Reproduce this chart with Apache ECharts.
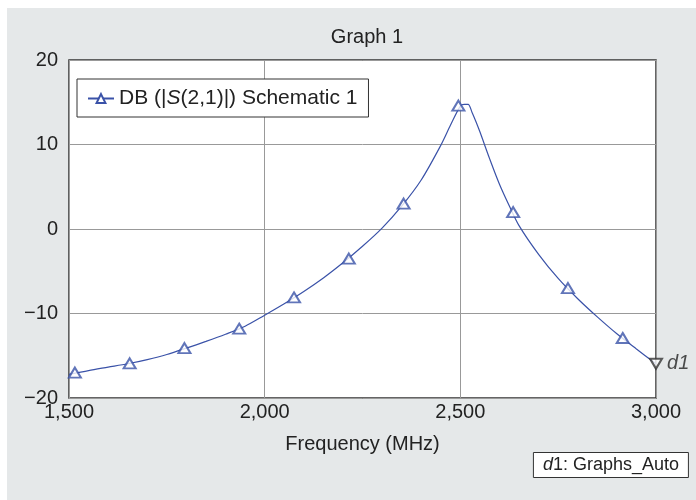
<!DOCTYPE html>
<html>
<head>
<meta charset="utf-8">
<script src="https://cdn.jsdelivr.net/npm/echarts@6/dist/echarts.min.js"></script>
<style>
  html, body { margin: 0; padding: 0; background: #fff; }
  #chart { width: 696px; height: 500px; }
</style>
</head>
<body>
<div id="chart"></div>
<script>
// curve (MHz, dB)
const freq = [1500, 1550, 1600, 1650, 1700, 1750, 1800, 1850, 1900, 1950, 2000, 2050, 2100, 2150, 2200, 2250, 2300, 2350, 2400, 2450, 2475, 2500, 2510, 2520, 2530, 2540, 2550, 2575, 2600, 2625, 2650, 2700, 2750, 2800, 2850, 2900, 2950, 3000];
const s21 = [-17.2, -16.75, -16.35, -15.95, -15.45, -14.85, -14.1, -13.3, -12.45, -11.5, -10.2, -8.85, -7.4, -5.8, -4.0, -2.05, 0.1, 2.7, 5.8, 9.9, 12.3, 14.55, 14.75, 14.75, 13.8, 12.7, 11.5, 8.3, 5.3, 2.75, 0.4, -3.0, -5.85, -8.25, -10.4, -12.4, -14.2, -15.95];
// triangle markers
const markFreq = [1515, 1655, 1795, 1935, 2075, 2215, 2355, 2495, 2635, 2775, 2915];
const markVal = [-17.0, -15.9, -14.1, -11.8, -8.1, -3.5, 3.0, 14.6, 2.0, -7.0, -12.9];
// d1 marker
const d1 = [3000, -15.95];
const xTicks = [1500, 2000, 2500, 3000];
const yTicks = [-20, -10, 0, 10, 20];

const blue = '#3a52a8';
const font = 'Liberation Sans';

const fmtX = v => v.toLocaleString('en-US');
const fmtY = v => String(v).replace('-', '\u2212');

let myChart = echarts.init(document.getElementById('chart'));
myChart.setOption({
  backgroundColor: '#fff',
  animation: false,
  textStyle: { fontFamily: font },
  graphic: [{
    type: 'rect', z: -10,
    shape: { x: 7, y: 8, width: 689, height: 492 },
    style: { fill: '#e5e8e9' }
  }],
  title: [{
    text: 'Graph 1',
    left: 362, top: 22, textAlign: 'center',
    textStyle: { fontFamily: font, fontSize: 20, fontWeight: 'normal', color: '#222' }
  }, {
    text: '{i|d}{n|1: Graphs_Auto}',
    right: 7, top: 452,
    backgroundColor: '#fff', borderColor: '#333', borderWidth: 1,
    padding: [4, 10, 4, 10],
    textStyle: {
      rich: {
        i: { fontFamily: font, fontSize: 18, fontStyle: 'italic', fontWeight: 'normal', color: '#222' },
        n: { fontFamily: font, fontSize: 18, fontWeight: 'normal', color: '#222' }
      }
    }
  }],
  legend: {
    left: 77, top: 79,
    backgroundColor: '#fff', borderColor: '#333', borderWidth: 1,
    padding: [9, 11, 8, 10],
    itemWidth: 26, itemHeight: 11, itemGap: 6,
    data: ['DB'],
    formatter: () => '{n|DB (|}{i|S}{n|(2,1)|) Schematic 1}',
    textStyle: {
      rich: {
        i: { fontFamily: font, fontSize: 21, fontStyle: 'italic', color: '#222' },
        n: { fontFamily: font, fontSize: 21, color: '#222' }
      }
    }
  },
  grid: {
    left: 69, right: 40, top: 60, bottom: 102,
    show: true, backgroundColor: '#fff', borderColor: '#333', borderWidth: 1.5
  },
  xAxis: {
    type: 'value', min: xTicks[0], max: xTicks[xTicks.length - 1], interval: 500,
    name: 'Frequency (MHz)', nameLocation: 'middle', nameGap: 36,
    nameTextStyle: { fontFamily: font, fontSize: 20, color: '#222' },
    axisLine: { show: false },
    axisTick: { show: false },
    axisLabel: { formatter: fmtX, fontFamily: font, fontSize: 20, color: '#222', margin: 4 },
    splitLine: { lineStyle: { color: '#999', width: 1 } }
  },
  yAxis: {
    type: 'value', min: yTicks[0], max: yTicks[yTicks.length - 1], interval: 10,
    axisLine: { show: false },
    axisTick: { show: false },
    axisLabel: { formatter: fmtY, fontFamily: font, fontSize: 20, color: '#222', margin: 11 },
    splitLine: { lineStyle: { color: '#999', width: 1 } }
  },
  series: [{
    name: 'DB',
    type: 'line',
    data: freq.map((f, i) => [f, s21[i]]),
    smooth: 0.3,
    symbol: 'emptyTriangle',
    showSymbol: false,
    color: blue,
    lineStyle: { color: blue, width: 1.2 },
    z: 3
  }, {
    name: 'markers',
    type: 'scatter',
    data: markFreq.map((f, i) => [f, markVal[i]]),
    symbol: 'emptyTriangle',
    symbolSize: [12, 10],
    itemStyle: { color: blue, borderWidth: 1.3 },
    z: 4
  }, {
    name: 'd1',
    type: 'scatter',
    data: [d1],
    symbol: 'emptyTriangle',
    symbolRotate: 180,
    symbolSize: [12, 10],
    itemStyle: { color: '#333', borderWidth: 1.3 },
    label: {
      show: true, position: 'right', distance: 4,
      formatter: 'd1', fontFamily: font, fontSize: 20, fontStyle: 'italic', color: '#222'
    },
    z: 5
  }]
});
window.onresize = function () {
  myChart.resize();
};
</script>
</body>
</html>
